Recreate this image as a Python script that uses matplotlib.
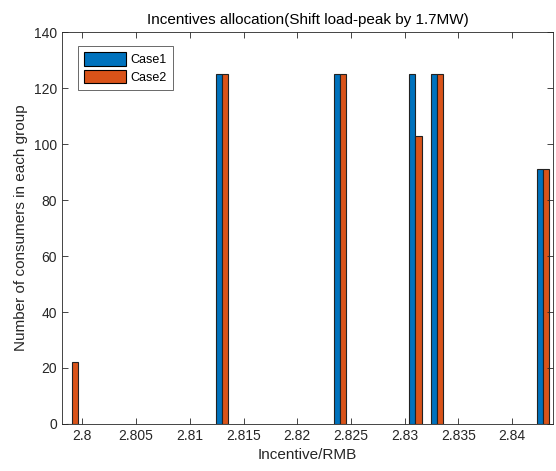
import numpy as np
import matplotlib
matplotlib.use("Agg")
import matplotlib.pyplot as plt

plt.rcParams['font.family'] = ['Liberation Sans', 'DejaVu Sans']

# group positions (incentive, RMB) and consumer counts
incentive = [2.7990, 2.8130, 2.8240, 2.8310, 2.8330, 2.8429]
case1 = [0, 125, 125, 125, 125, 91]
case2 = [22, 125, 125, 103, 125, 91]
xticks = [2.8, 2.805, 2.81, 2.815, 2.82, 2.825, 2.83, 2.835, 2.84]
yticks = [0, 20, 40, 60, 80, 100, 120, 140]

blue = '#0072BD'
orange = '#D95319'
w = 0.00057

fig = plt.figure(figsize=(5.56, 4.71), dpi=100)
ax = fig.add_axes([0.1115, 0.0998, 0.883, 0.8322])

x = np.array(incentive)
ax.bar(x - w / 2, case1, width=w, color=blue, edgecolor='#222222', linewidth=0.8, label='Case1')
ax.bar(x + w / 2, case2, width=w, color=orange, edgecolor='#222222', linewidth=0.8, label='Case2')

ax.set_xlim(2.7981, 2.8438)
ax.set_ylim(0, 140)
ax.set_xticks(xticks)
ax.set_xticklabels([f'{v:g}' for v in xticks])
ax.set_yticks(yticks)
ax.tick_params(direction='in', top=True, right=True, length=4, width=0.6,
               labelsize=10, colors='#262626')
for s in ax.spines.values():
    s.set_linewidth(0.6)
    s.set_color('#262626')

ax.set_xlabel('Incentive/RMB', fontsize=11, color='#262626')
ax.set_ylabel('Number of consumers in each group', fontsize=11, color='#262626')
ax.set_title('Incentives allocation(Shift load-peak by 1.7MW)', fontsize=11,
             color='#000000', pad=6)

leg = ax.legend(loc='upper left', bbox_to_anchor=(0.033, 0.965), fancybox=False,
                edgecolor='#262626', fontsize=9, handlelength=3.3, handleheight=1.3,
                borderpad=0.5, labelspacing=0.3, handletextpad=0.4, borderaxespad=0)
leg.get_frame().set_linewidth(0.6)
for h in leg.legend_handles:
    h.set_edgecolor('black')

fig.savefig('out.png', dpi=100)
